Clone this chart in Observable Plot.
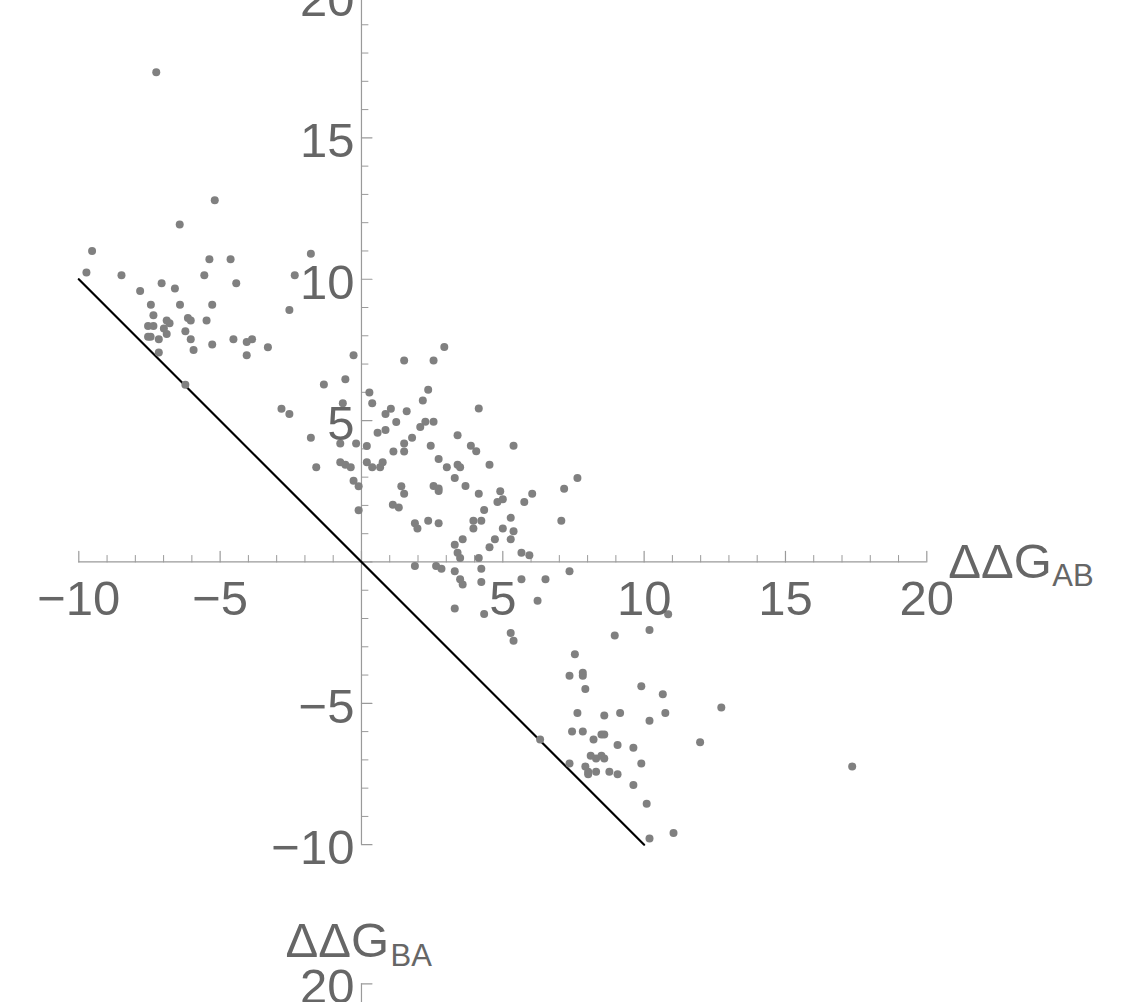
<!DOCTYPE html>
<html>
<head>
<meta charset="utf-8">
<script src="https://cdn.jsdelivr.net/npm/d3@7"></script>
<script src="https://cdn.jsdelivr.net/npm/@observablehq/plot@0.6"></script>
<style>
  html, body { margin: 0; padding: 0; background: #fff; }
  svg { display: block; }
</style>
</head>
<body>
<div id="chart"></div>
<script>
// ΔΔG_AB (x) and ΔΔG_BA (y) values
const ddgAB = [
  -7.26,-5.19,-6.43,-9.53,-9.73,-5.38,-4.63,-1.79,-8.49,-7.83,
  -7.07,-6.60,-5.56,-4.43,-2.36,-2.55,-7.45,-6.42,-5.28,-7.36,
  -6.14,-6.04,-5.48,-7.55,-7.36,-6.89,-6.79,-6.99,-6.89,-7.55,
  -7.46,-7.17,-7.17,-6.23,-6.04,-5.94,-5.28,-4.53,-4.06,-3.87,
  -4.06,-3.31,-6.23,-0.28,-1.33,-0.57,-0.66,-2.83,-2.55,-1.79,
  -1.60,-0.75,-0.19,-0.75,-0.57,-0.38,-0.28,-0.10,-0.10,0.28,
  0.38,0.19,0.19,0.38,0.57,0.66,0.75,0.85,0.85,1.04,
  1.23,1.13,1.11,1.32,1.41,1.51,1.51,1.51,1.51,1.60,
  1.79,1.89,1.98,1.89,2.08,2.17,2.26,2.36,2.55,2.55,
  2.45,2.73,2.55,2.73,2.73,2.36,2.73,2.64,2.83,2.93,
  3.02,3.30,3.40,3.40,3.49,3.68,3.58,3.30,3.40,3.49,
  3.30,3.49,3.58,3.30,4.15,3.87,4.06,4.53,4.15,3.96,
  4.24,3.96,4.34,4.15,4.24,4.24,4.34,4.53,4.72,4.91,
  4.81,5.00,5.00,5.28,5.28,5.38,5.38,5.76,6.04,5.66,
  5.94,5.66,6.23,6.51,7.07,7.17,7.64,7.36,
  5.28,5.38,8.96,10.19,10.85,7.55,7.36,7.83,7.83,7.92,
  9.90,10.66,12.73,7.64,8.59,9.15,10.75,10.19,11.98,7.45,
  7.83,8.21,8.49,8.59,9.06,9.62,6.32,8.11,8.30,8.49,
  8.59,7.36,7.92,8.02,8.02,8.30,8.77,9.06,9.90,17.36,
  9.62,10.09,10.19,11.04
];
const ddgBA = [
  17.32,12.79,11.94,11.00,10.24,10.71,10.71,10.90,10.14,9.58,
  9.86,9.67,10.14,9.86,10.14,8.91,9.10,9.10,9.10,8.73,
  8.63,8.54,8.54,8.35,8.35,8.54,8.44,8.26,8.06,7.97,
  7.97,7.88,7.41,8.16,7.88,7.50,7.69,7.88,7.78,7.88,
  7.31,7.59,6.27,7.31,6.28,6.46,5.61,5.42,5.23,4.39,
  3.35,4.19,4.19,3.53,3.44,3.35,2.87,2.68,1.83,5.99,
  5.61,4.10,3.53,3.35,4.57,3.35,3.53,4.67,5.23,5.42,
  4.95,3.91,2.02,1.93,2.68,2.41,7.13,4.19,3.91,5.33,
  4.39,1.37,1.18,-0.14,4.77,5.71,4.96,6.09,4.96,7.13,
  4.11,3.64,2.69,2.60,2.51,1.46,1.37,-0.14,-0.24,7.60,
  3.35,2.97,4.48,3.44,3.35,2.69,0.80,0.61,0.33,0.14,
  -0.33,-0.61,-0.80,-1.65,5.43,4.11,3.92,3.44,2.41,1.46,
  1.46,1.18,1.84,0.14,-0.24,-0.71,-1.84,0.52,0.80,2.50,
  2.12,2.22,1.18,1.56,0.80,1.09,4.11,2.12,2.41,0.33,
  0.24,-0.61,-1.37,-0.61,1.46,2.59,2.97,-0.33,
  -2.51,-2.79,-2.60,-2.41,-1.85,-3.26,-4.02,-3.92,-4.02,-4.49,
  -4.40,-4.68,-5.15,-5.34,-5.43,-5.34,-5.34,-5.62,-6.38,-6.00,
  -6.00,-6.28,-6.10,-6.10,-6.47,-6.57,-6.28,-6.85,-6.95,-6.85,
  -6.95,-7.13,-7.23,-7.42,-7.51,-7.42,-7.42,-7.51,-7.13,-7.23,
  -7.89,-8.55,-9.78,-9.59
];
// reference line ΔΔG_BA = −ΔΔG_AB
const diagX = [-10, 10];
const diagY = [10, -10];
// axis ticks
const majorTicks = [-10, -5, 0, 5, 10, 15, 20];
const minorTicks = [-9,-8,-7,-6,-4,-3,-2,-1,1,2,3,4,6,7,8,9,11,12,13,14,16,17,18,19];
const tickLabels = [-10, -5, 5, 10, 15, 20];
// stray axis fragment below the plot (as in the reference)
const strayTickY = -14.92;
const strayTickLabel = "20";

const points = ddgAB.map((x, i) => ({x, y: ddgBA[i]}));
const diag = diagX.map((x, i) => ({x, y: diagY[i]}));
const fmt = v => (v < 0 ? "\u2212" : "") + Math.abs(v);

const axisColor = "#9a9a9a";
const textColor = "#666666";
const font = 49;
const tickShape = {draw(context, l) { context.moveTo(0, 0); context.lineTo(0, -l); }};

const chart = Plot.plot({
  width: 1121,
  height: 1002,
  x: {domain: [-10, 20], range: [78.3, 926.3], axis: null},
  y: {domain: [-10, 20], range: [844.2, -4], axis: null},
  style: {fontFamily: "'Liberation Sans', Arial, Helvetica, sans-serif", background: "#fff", overflow: "visible"},
  marks: [
    // axes lines
    Plot.ruleY([0], {x1: -10, x2: 20, stroke: axisColor, strokeWidth: 1.2}),
    Plot.ruleX([0], {y1: -10, y2: 20.5, stroke: axisColor, strokeWidth: 1.2}),
    // x ticks (upwards)
    Plot.vector(majorTicks, {x: d => d, y: 0, length: 10.5, rotate: 0, anchor: "start", shape: tickShape, stroke: axisColor, strokeWidth: 1.2}),
    Plot.vector(minorTicks, {x: d => d, y: 0, length: 6.5, rotate: 0, anchor: "start", shape: tickShape, stroke: axisColor, strokeWidth: 1}),
    // y ticks (rightwards)
    Plot.vector(majorTicks, {x: 0, y: d => d, length: 10.5, rotate: 90, anchor: "start", shape: tickShape, stroke: axisColor, strokeWidth: 1.2}),
    Plot.vector(minorTicks, {x: 0, y: d => d, length: 6.5, rotate: 90, anchor: "start", shape: tickShape, stroke: axisColor, strokeWidth: 1}),
    // stray axis fragment at the bottom
    Plot.ruleX([0], {y1: strayTickY, y2: -16, stroke: axisColor, strokeWidth: 1.2}),
    Plot.vector([strayTickY], {x: 0, y: d => d, length: 10.5, rotate: 90, anchor: "start", shape: tickShape, stroke: axisColor, strokeWidth: 1.2}),
    // data
    Plot.line(diag, {x: "x", y: "y", stroke: "#000", strokeWidth: 2.2}),
    Plot.dot(points, {x: "x", y: "y", r: 4, fill: "#808080", stroke: "none"}),
    // tick labels
    Plot.text(tickLabels, {x: d => d, y: 0, text: fmt, fill: textColor, fontSize: font, textAnchor: "middle", dy: 37.8}),
    Plot.text(tickLabels, {x: 0, y: d => d, text: fmt, fill: textColor, fontSize: font, textAnchor: "end", dx: -7, dy: 3.7}),
    Plot.text([strayTickY], {x: 0, y: d => d, text: () => strayTickLabel, fill: textColor, fontSize: font, textAnchor: "end", dx: -7, dy: 3.7}),
    // axis labels
    Plot.text([20], {x: d => d, y: 0, text: () => "ΔΔG", fill: textColor, fontSize: font, textAnchor: "start", dx: 21.5, dy: 0.8}),
    Plot.text([20], {x: d => d, y: 0, text: () => "AB", fill: textColor, fontSize: 31, textAnchor: "start", dx: 125.4, dy: 14.6}),
    Plot.text([strayTickY], {x: 0, y: d => d, text: () => "ΔΔG", fill: textColor, fontSize: font, textAnchor: "start", dx: -76, dy: -42}),
    Plot.text([strayTickY], {x: 0, y: d => d, text: () => "BA", fill: textColor, fontSize: 31, textAnchor: "start", dx: 29, dy: -27.9})
  ]
});
document.getElementById("chart").appendChild(chart);
</script>
</body>
</html>
